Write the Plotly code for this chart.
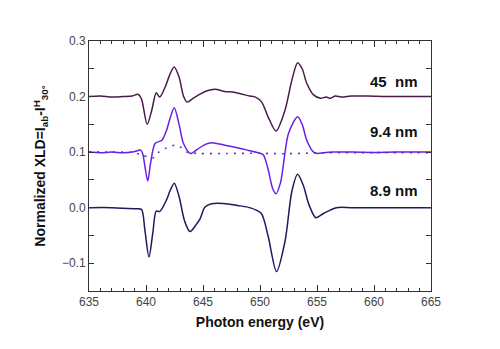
import plotly.graph_objects as go

# 45 nm film (offset +0.2)
e_45 = [635, 636, 637, 638, 638.8, 639.3, 639.6, 640.1, 640.5, 640.9, 641.2, 641.7, 642.1,
        642.48, 642.9, 643.3, 643.6, 644.15, 644.7, 645.3, 646.05, 646.9, 647.6, 648.3, 649.1,
        649.6, 650.15, 650.7, 651.4, 652.2, 652.8, 653.3, 653.7, 654.1, 654.7, 655.3, 655.8,
        656.2, 656.6, 657.2, 658, 659.5, 661, 663, 665]
xld_45 = [0.200, 0.201, 0.199, 0.200, 0.201, 0.204, 0.196, 0.150, 0.175, 0.207, 0.199, 0.218,
          0.240, 0.253, 0.235, 0.200, 0.190, 0.197, 0.204, 0.210, 0.213, 0.209, 0.208, 0.205,
          0.201, 0.199, 0.190, 0.164, 0.138, 0.176, 0.230, 0.261, 0.250, 0.224, 0.203, 0.197,
          0.199, 0.197, 0.201, 0.199, 0.201, 0.201, 0.200, 0.200, 0.200]

# 9.4 nm film (offset +0.1)
e_94 = [635, 636, 637, 638, 638.8, 639.3, 639.5, 639.7, 639.9, 640.15, 640.4, 640.8, 641.4,
        641.8, 642.1, 642.48, 642.9, 643.3, 643.9, 644.5, 645.2, 645.8, 646.9, 648, 649, 650,
        650.3, 650.7, 651.1, 651.4, 651.8, 652.5, 653.3, 653.7, 654.1, 654.7, 655.1, 655.6,
        656.5, 658, 660, 662, 665]
xld_94 = [0.100, 0.099, 0.100, 0.099, 0.100, 0.103, 0.104, 0.098, 0.075, 0.048, 0.080, 0.1155,
          0.1215, 0.139, 0.160, 0.180, 0.150, 0.115, 0.0975, 0.105, 0.114, 0.117, 0.1125,
          0.108, 0.103, 0.098, 0.095, 0.070, 0.035, 0.025, 0.045, 0.1335, 0.1636, 0.150,
          0.1215, 0.100, 0.0975, 0.099, 0.100, 0.100, 0.0995, 0.100, 0.100]

# dotted reference curve
e_dot = [635, 637, 639, 639.6, 640.35, 640.7, 641.1, 641.8, 642.55, 643.1, 643.6, 644.7,
         647, 650, 652, 654, 656, 660, 665]
xld_dot = [0.1005, 0.100, 0.099, 0.0945, 0.091, 0.090, 0.0995, 0.1075, 0.1125, 0.108, 0.100,
           0.0975, 0.0975, 0.098, 0.097, 0.098, 0.099, 0.099, 0.099]

# 8.9 nm film
e_89 = [635, 637, 639, 639.6, 639.9, 640.26, 640.6, 640.9, 641.2, 641.8, 642.1, 642.48, 642.9,
        643.4, 643.86, 644.45, 644.74, 645.18, 645.76, 646.8, 648, 649.1, 650.1, 650.7,
        651.45, 652.2, 652.8, 653.3, 653.8, 654.3, 654.9, 655.6, 656.7, 658, 660, 665]
xld_89 = [0.000, 0.000, -0.002, -0.003, -0.040, -0.089, -0.045, -0.006, -0.007, 0.014, 0.030,
          0.044, 0.020, -0.025, -0.043, -0.029, -0.020, 0.001, 0.007, 0.0075, 0.004, 0.000,
          -0.010, -0.050, -0.115, -0.060, 0.030, 0.060, 0.040, 0.005, -0.018, -0.010, 0.000,
          0.000, 0.000, 0.000]

labels = ["45  nm", "9.4 nm", "8.9 nm"]
label_y = [0.227, 0.1365, 0.031]

FONT = "Arial, Liberation Sans"

fig = go.Figure()
line_kw = dict(mode="lines", line_shape="spline", showlegend=False)
fig.add_trace(go.Scatter(x=e_45, y=xld_45, line=dict(color="#4a1a4f", width=1.5, smoothing=0.8), **line_kw))
fig.add_trace(go.Scatter(x=e_dot, y=xld_dot, line=dict(color="#5533cc", width=1.6, dash="2px,6px", smoothing=0.8), **line_kw))
fig.add_trace(go.Scatter(x=e_94, y=xld_94, line=dict(color="#6a1fe8", width=1.5, smoothing=0.8), **line_kw))
fig.add_trace(go.Scatter(x=e_89, y=xld_89, line=dict(color="#1c1c5c", width=1.5, smoothing=0.8), **line_kw))

for txt, yy in zip(labels, label_y):
    fig.add_annotation(x=664.0, y=yy, text="<b>" + txt + "</b>", showarrow=False,
                       xanchor="right", yanchor="middle",
                       font=dict(size=15, color="#111", family=FONT))

axis_common = dict(showline=True, linecolor="#333", linewidth=1, mirror="ticks", ticks="inside",
                   tickcolor="#333", showgrid=False, zeroline=False, automargin=False,
                   tickfont=dict(size=12, color="#444", family=FONT))

fig.update_xaxes(range=[635, 665], dtick=5, ticklen=6,
                 minor=dict(dtick=1, ticks="inside", ticklen=3, tickcolor="#333"),
                 title=dict(text="<b>Photon energy (eV)</b>", standoff=8,
                            font=dict(size=14, color="#111", family=FONT)),
                 **axis_common)
fig.update_yaxes(range=[-0.15, 0.3], dtick=0.1, tickformat=".1f", ticklen=5,
                 minor=dict(dtick=0.05, ticks="inside", ticklen=5, tickcolor="#333"),
                 title=dict(text="<b>Normalized XLD=I<sub>ab</sub>-I<sup>H</sup><sub>30°</sub></b>", standoff=12,
                            font=dict(size=14, color="#111", family=FONT)),
                 **axis_common)

# page body adds an 8px offset, so margins are shifted to land the plot area where it should be
fig.update_layout(width=500, height=349, plot_bgcolor="white", paper_bgcolor="white",
                  margin=dict(l=81, r=77, t=33, b=66))

fig.write_html("out.html")
